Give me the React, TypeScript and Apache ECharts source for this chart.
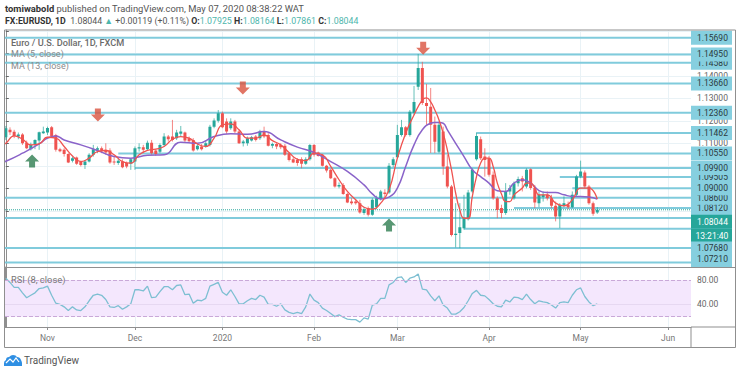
import React, { useEffect, useRef } from "react";
import * as echarts from "echarts";

const FONT = "Roboto, 'Open Sans', sans-serif";
const monthTicks = [10, 31, 52, 74, 94, 116, 138, 159];
const monthNames = ["Nov", "Dec", "2020", "Feb", "Mar", "Apr", "May", "Jun"];
const priceTicks = [1.16, 1.15, 1.14, 1.13, 1.12, 1.11, 1.1, 1.09, 1.08];
const priceTickLabels = [1.14, 1.13, 1.12, 1.11];
const rsiTicks = [80, 40];

// open, close, low, high
const candles: number[][] = [
  [1.1127,1.1167,1.1115,1.1177],[1.1160,1.1149,1.1137,1.1171],[1.1151,1.1133,1.1123,1.1160],[1.1130,1.1139,1.1118,1.1148],
  [1.1139,1.1100,1.1093,1.1145],[1.1103,1.1078,1.1074,1.1112],[1.1074,1.1093,1.1068,1.1103],[1.1097,1.1115,1.1074,1.1118],
  [1.1112,1.1149,1.1071,1.1152],[1.1145,1.1152,1.1142,1.1174],[1.1148,1.1168,1.1137,1.1174],[1.1171,1.1133,1.1127,1.1177],
  [1.1137,1.1071,1.1063,1.1142],[1.1074,1.1065,1.1060,1.1080],[1.1071,1.1052,1.1041,1.1078],[1.1052,1.1015,1.1012,1.1056],
  [1.1023,1.1034,1.1015,1.1041],[1.1037,1.1009,1.1004,1.1041],[1.1019,1.1004,1.0997,1.1023],[1.1004,1.1019,1.0986,1.1026],
  [1.1019,1.1049,1.1015,1.1056],[1.1049,1.1074,1.1041,1.1093],[1.1071,1.1078,1.1056,1.1086],[1.1078,1.1068,1.1056,1.1086],
  [1.1071,1.1059,1.1049,1.1100],[1.1068,1.1015,1.1009,1.1078],[1.1019,1.1015,1.1004,1.1041],[1.1012,1.1023,1.1004,1.1034],
  [1.1019,1.0994,1.0989,1.1029],[1.1012,1.0997,1.0989,1.1019],[1.1009,1.1029,1.0982,1.1034],[1.1019,1.1078,1.0982,1.1086],
  [1.1077,1.1083,1.1063,1.1100],[1.1083,1.1071,1.1056,1.1093],[1.1074,1.1103,1.1068,1.1112],[1.1103,1.1056,1.1049,1.1115],
  [1.1068,1.1053,1.1044,1.1074],[1.1062,1.1093,1.1056,1.1100],[1.1092,1.1130,1.1086,1.1145],[1.1130,1.1118,1.1108,1.1137],
  [1.1130,1.1115,1.1108,1.1204],[1.1123,1.1148,1.1115,1.1160],[1.1142,1.1152,1.1130,1.1177],[1.1148,1.1112,1.1103,1.1152],
  [1.1123,1.1109,1.1103,1.1130],[1.1115,1.1068,1.1063,1.1123],[1.1074,1.1089,1.1068,1.1097],[1.1086,1.1074,1.1068,1.1097],
  [1.1086,1.1100,1.1080,1.1112],[1.1093,1.1174,1.1086,1.1182],[1.1174,1.1201,1.1167,1.1211],[1.1200,1.1234,1.1192,1.1248],
  [1.1234,1.1171,1.1167,1.1241],[1.1197,1.1152,1.1142,1.1211],[1.1167,1.1197,1.1160,1.1211],[1.1197,1.1152,1.1145,1.1204],
  [1.1152,1.1100,1.1097,1.1160],[1.1100,1.1108,1.1086,1.1115],[1.1100,1.1123,1.1089,1.1130],[1.1112,1.1127,1.1108,1.1133],
  [1.1130,1.1115,1.1108,1.1137],[1.1123,1.1152,1.1115,1.1160],[1.1152,1.1130,1.1123,1.1174],[1.1137,1.1089,1.1086,1.1145],
  [1.1089,1.1097,1.1078,1.1103],[1.1097,1.1086,1.1074,1.1103],[1.1093,1.1083,1.1074,1.1100],[1.1089,1.1049,1.1044,1.1097],
  [1.1056,1.1026,1.1019,1.1060],[1.1029,1.1015,1.1012,1.1038],[1.1026,1.1012,1.1000,1.1034],[1.1029,1.1009,1.0989,1.1038],
  [1.1009,1.1029,1.1004,1.1038],[1.1029,1.1093,1.1023,1.1097],[1.1093,1.1049,1.1041,1.1097],[1.1059,1.1044,1.1041,1.1063],
  [1.1049,1.1000,1.0997,1.1053],[1.1000,1.0979,1.0970,1.1004],[1.0982,1.0945,1.0941,1.0986],[1.0945,1.0908,1.0903,1.0949],
  [1.0908,1.0915,1.0900,1.0926],[1.0915,1.0875,1.0871,1.0923],[1.0875,1.0837,1.0834,1.0880],[1.0841,1.0834,1.0827,1.0856],
  [1.0841,1.0834,1.0827,1.0849],[1.0834,1.0793,1.0787,1.0849],[1.0790,1.0807,1.0782,1.0816],[1.0812,1.0782,1.0775,1.0819],
  [1.0782,1.0849,1.0778,1.0856],[1.0816,1.0856,1.0807,1.0867],[1.0852,1.0886,1.0846,1.0893],[1.0881,1.0875,1.0856,1.0896],
  [1.0881,1.1000,1.0875,1.1012],[1.1004,1.1029,1.0994,1.1038],[1.1038,1.1137,1.1034,1.1182],[1.1137,1.1171,1.1130,1.1204],
  [1.1171,1.1137,1.1130,1.1177],[1.1137,1.1240,1.1130,1.1248],[1.1235,1.1284,1.1226,1.1355],[1.1351,1.1435,1.1337,1.1497],
  [1.1435,1.1279,1.1271,1.1462],[1.1279,1.1266,1.1182,1.1364],[1.1262,1.1182,1.1057,1.1346],[1.1182,1.1107,1.1056,1.1219],
  [1.1063,1.1182,1.1056,1.1197],[1.1152,1.0997,1.0960,1.1174],[1.0997,1.0908,1.0900,1.1049],[1.0908,1.0693,1.0686,1.0915],
  [1.0692,1.0698,1.0637,1.0834],[1.0701,1.0727,1.0634,1.0834],[1.0723,1.0767,1.0716,1.0871],[1.0763,1.0881,1.0757,1.0893],
  [1.0886,1.0982,1.0878,1.0989],[1.1029,1.1133,1.1023,1.1148],[1.1118,1.1034,1.1026,1.1130],[1.1041,1.1026,1.0952,1.1078],
  [1.1034,1.0960,1.0952,1.1044],[1.0960,1.0856,1.0849,1.0975],[1.0856,1.0804,1.0767,1.0864],[1.0812,1.0790,1.0767,1.0827],
  [1.0790,1.0886,1.0782,1.0923],[1.0886,1.0901,1.0871,1.0915],[1.0856,1.0923,1.0849,1.0930],[1.0923,1.0941,1.0908,1.0952],
  [1.0945,1.0930,1.0886,1.0955],[1.0908,1.0982,1.0900,1.0989],[1.0985,1.0901,1.0893,1.0989],[1.0901,1.0837,1.0812,1.0915],
  [1.0834,1.0871,1.0816,1.0886],[1.0861,1.0871,1.0841,1.0886],[1.0871,1.0856,1.0846,1.0886],[1.0856,1.0822,1.0812,1.0871],
  [1.0822,1.0775,1.0753,1.0841],[1.0775,1.0827,1.0723,1.0834],[1.0822,1.0834,1.0816,1.0864],[1.0827,1.0816,1.0807,1.0841],
  [1.0816,1.0871,1.0812,1.0886],[1.0871,1.0952,1.0864,1.0960],[1.0952,1.0975,1.0945,1.1023],[1.0970,1.0908,1.0900,1.0979],
  [1.0908,1.0834,1.0827,1.0915],[1.0834,1.0787,1.0778,1.0841],[1.07925,1.08044,1.07861,1.08164],
];

const ma5: number[][] = [
  [-1,1.1090],[0,1.1100],[2,1.1133],[4,1.1118],[6,1.1093],[8,1.1097],[10,1.1127],[12,1.1123],[14,1.1086],[16,1.1044],[18,1.1019],[20,1.1034],
  [22,1.1063],[24,1.1068],[26,1.1049],[28,1.1019],[30,1.1012],[32,1.1049],[34,1.1068],[36,1.1074],[38,1.1086],[40,1.1118],
  [42,1.1130],[44,1.1123],[46,1.1097],[48,1.1086],[50,1.1123],[52,1.1182],[54,1.1186],[56,1.1160],[58,1.1123],[60,1.1123],
  [62,1.1137],[64,1.1112],[66,1.1093],[68,1.1059],[70,1.1029],[72,1.1023],[74,1.1056],[76,1.1049],[78,1.0997],[80,1.0938],
  [82,1.0886],[84,1.0849],[86,1.0816],[88,1.0807],[90,1.0834],[92,1.0893],[94,1.1034],[96,1.1145],[98,1.1226],[100,1.1293],
  [101,1.1302],[102,1.1284],[103,1.1248],[104,1.1204],[105,1.1145],[106,1.1071],[107,1.0982],[108,1.0878],[109,1.0804],
  [110,1.0767],[111,1.0767],[112,1.0864],[113,1.0952],[114,1.1012],[115,1.1034],[116,1.1034],[117,1.0997],[118,1.0923],
  [119,1.0875],[120,1.0841],[121,1.0841],[122,1.0871],[124,1.0901],[125,1.0923],[126,1.0923],[127,1.0901],[128,1.0871],
  [130,1.0871],[132,1.0834],[134,1.0822],[136,1.0849],[138,1.0901],[140,1.0901],[142,1.0852],
];

const ma13: number[][] = [
  [-1,1.1015],[0,1.1020],[4,1.1056],[8,1.1097],[10,1.1123],[12,1.1133],[14,1.1115],[18,1.1093],[22,1.1068],[26,1.1041],[30,1.1034],
  [34,1.1047],[38,1.1049],[42,1.1105],[46,1.1100],[50,1.1130],[54,1.1142],[58,1.1140],[62,1.1152],[66,1.1115],[70,1.1083],
  [74,1.1059],[78,1.1019],[82,1.0975],[86,1.0915],[88,1.0875],[90,1.0852],[92,1.0861],[94,1.0901],[96,1.0997],[98,1.1093],
  [100,1.1160],[102,1.1189],[103,1.1192],[104,1.1192],[105,1.1189],[106,1.1160],[108,1.1100],[110,1.1041],[112,1.0982],
  [114,1.0952],[116,1.0923],[118,1.0889],[120,1.0886],[122,1.0923],[124,1.0938],[126,1.0923],[128,1.0890],[130,1.0881],
  [132,1.0881],[134,1.0871],[136,1.0864],[138,1.0864],[140,1.0861],[142,1.0852],
];

const rsi = [
  83,76,68,68,59,51,55,59,66,67,70,55,42,40,36,30,36,31,30,36,46,55,57,55,48,36,35,38,32,36,41,64,64,62,70,51,52,61,69,69,64,71,72,56,57,42,47,46,50,70,73,76,
  60,55,64,53,41,41,46,50,48,55,52,40,40,37,41,31,27,25,27,25,36,57,47,43,34,30,25,20,23,19,16,15,15,11,18,16,39,41,50,50,72,76,84,85,76,83,85,90,65,64,54,46,54,
  39,34,24,24,28,35,46,58,63,55,54,48,41,37,36,47,44,52,51,48,57,48,41,46,44,43,39,34,43,44,43,55,64,67,53,44,38,41,
];

// true price of line, text on its tag ("" = no tag), first day index, tag's vertical shift
const levels: [number, string, number, number][] = [
  [1.0570, "1.07210", -1, -4],
  [1.0635, "1.07680", -1, 0],
  [1.0720, "", 110, 0],
  [1.0768, "", -1, 0],
  [1.0812, "1.08120", 122, 0],
  [1.0858, "1.08600", -1, 0],
  [1.0900, "1.09000", 136, 0],
  [1.09505, "1.09505", 133, 0],
  [1.0990, "1.09900", 31, 0],
  [1.1055, "1.10550", 27, 0],
  [1.11462, "1.11462", 113, 0],
  [1.1236, "1.12360", -1, 0],
  [1.1366, "1.13660", -1, 0],
  [1.1458, "1.14580", -1, 0],
  [1.1495, "1.14950", -1, 0],
  [1.1569, "1.15690", -1, 0],
];

const lastPrice = 1.08044;
const downArrows = [[22.1, 1.1226], [56.9, 1.1346], [100.2, 1.1523]];
const upArrows = [[6.3, 1.1021], [92, 1.0737]];

const X_MIN = -0.2;
const X_MAX = 164.5;
const UP = "#26a69a";
const DOWN = "#ef5350";
const LEVEL = "#80cbdc";
const GRIDC = "#e9f2f6";
const AXISC = "#8f8f8f";

echarts.graphic.registerShape(
  "tvcloud",
  echarts.graphic.extendPath("M0 11 L0 8 Q0 6 2 5 Q2 2 5 2 Q7 0 9 0 Q12 0 13 2 Q16 2 17 5 Q18 7 18 8 L18 11 Z", {})
);

function renderCandle(_: any, api: any) {
  const i = api.value(0);
  const o = api.value(1);
  const c = api.value(2);
  const l = api.value(3);
  const h = api.value(4);
  const color = c >= o ? UP : DOWN;
  const [x, yo] = api.coord([i, o]);
  const yc = api.coord([i, c])[1];
  const yl = api.coord([i, l])[1];
  const yh = api.coord([i, h])[1];
  const top = Math.min(yo, yc);
  return {
    type: "group",
    children: [
      { type: "line", shape: { x1: x, y1: yh, x2: x, y2: yl }, style: { stroke: color, lineWidth: 1, opacity: 0.7 } },
      { type: "rect", shape: { x: x - 1.5, y: top, width: 3, height: Math.max(1, Math.abs(yo - yc)) }, style: { fill: color } },
    ],
  };
}

export default function App() {
  const ref = useRef<HTMLDivElement>(null);
  useEffect(() => {
    document.body.style.margin = "0";
    const chart = echarts.init(ref.current!, undefined, { renderer: "svg" });
    const arrow = (data: number[][], path: string, color: string) => ({
      type: "scatter",
      data,
      symbol: path,
      symbolSize: [14, 13],
      itemStyle: { color },
      z: 6,
      silent: true,
    });
    const xBase = {
      type: "value",
      min: X_MIN,
      max: X_MAX,
      splitLine: { show: true, lineStyle: { color: GRIDC, width: 1 } },
    };
    const tagBox = (bg: string, fg: string, weight: any = "normal") => ({
      show: true,
      distance: 0,
      color: fg,
      fontSize: 8.5,
      fontFamily: FONT,
      fontWeight: weight,
      backgroundColor: bg,
      padding: [2.5, 6, 2.5, 6],
      width: 29,
      align: "left",
    });
    chart.setOption({
      animation: false,
      backgroundColor: "#fff",
      grid: [
        { left: 5, right: 49, top: 30, height: 237.5 },
        { left: 5, right: 49, top: 267.5, height: 59.5 },
      ],
      xAxis: [
        {
          ...xBase,
          gridIndex: 0,
          axisLine: { show: false },
          axisTick: { show: false, customValues: monthTicks },
          axisLabel: { show: false, customValues: monthTicks },
        },
        {
          ...xBase,
          gridIndex: 1,
          axisLine: { show: true, lineStyle: { color: AXISC } },
          axisTick: { show: true, length: 3, lineStyle: { color: AXISC }, customValues: monthTicks },
          axisLabel: {
            show: true,
            customValues: monthTicks,
            margin: 6,
            fontSize: 8.5,
            fontFamily: FONT,
            color: "#777",
            formatter: (v: number) => monthNames[monthTicks.indexOf(Math.round(v))] ?? "",
          },
        },
      ],
      yAxis: [
        {
          type: "value",
          gridIndex: 0,
          position: "right",
          min: 1.0548,
          max: 1.16036,
          axisLine: { show: true, lineStyle: { color: AXISC } },
          axisTick: { show: true, length: 3, lineStyle: { color: "#666" }, customValues: priceTicks },
          splitLine: { show: true, lineStyle: { color: GRIDC } },
          axisLabel: {
            show: true,
            customValues: priceTickLabels,
            margin: 6,
            fontSize: 8.5,
            fontFamily: FONT,
            color: "#666",
            formatter: (v: number) => v.toFixed(5),
          },
        },
        {
          type: "value",
          gridIndex: 1,
          position: "right",
          min: 3,
          max: 100.5,
          axisLine: { show: true, lineStyle: { color: AXISC, width: 2 } },
          axisTick: { show: true, length: 3, lineStyle: { color: "#666" }, customValues: rsiTicks },
          splitLine: { show: false },
          axisLabel: {
            show: true,
            customValues: rsiTicks,
            margin: 6,
            fontSize: 8.5,
            fontFamily: FONT,
            color: "#666",
            formatter: (v: number) => v.toFixed(2),
          },
        },
      ],
      series: [
        ...levels.map(([price, tag, start, shift]) => ({
          type: "line",
          xAxisIndex: 0,
          yAxisIndex: 0,
          data: [[start < 0 ? X_MIN : start, price], [X_MAX, price]],
          symbol: "none",
          silent: true,
          lineStyle: { color: LEVEL, width: 2 },
          z: 2,
          endLabel: tag
            ? { ...tagBox("#86cfdf", "#2b3a40"), offset: [0, shift], formatter: () => tag }
            : { show: false },
        })),
        {
          type: "line",
          xAxisIndex: 0,
          yAxisIndex: 0,
          data: [[X_MIN, lastPrice], [X_MAX, lastPrice]],
          symbol: "none",
          silent: true,
          lineStyle: { color: UP, width: 1, type: "dotted" },
          z: 3,
          endLabel: { ...tagBox(UP, "#fff"), offset: [0, 12], formatter: () => lastPrice.toFixed(5) },
        },
        {
          type: "custom",
          xAxisIndex: 0,
          yAxisIndex: 0,
          renderItem: renderCandle,
          data: candles.map((c, i) => [i, ...c]),
          encode: { x: 0, y: [1, 2, 3, 4] },
          clip: true,
          silent: true,
          z: 4,
        },
        {
          type: "line",
          xAxisIndex: 0,
          yAxisIndex: 0,
          data: ma13,
          smooth: true,
          symbol: "none",
          silent: true,
          lineStyle: { color: "#8a63c9", width: 1.5 },
          z: 5,
        },
        {
          type: "line",
          xAxisIndex: 0,
          yAxisIndex: 0,
          data: ma5,
          smooth: true,
          symbol: "none",
          silent: true,
          lineStyle: { color: "#ef5350", width: 1.3 },
          z: 5,
        },
        arrow(downArrows, "path://M4 0H10V6H14L7 13L0 6H4Z", "#d9533f"),
        arrow(upArrows, "path://M7 0L14 7H10V13H4V7H0Z", "#2e7d50"),
        {
          type: "line",
          xAxisIndex: 1,
          yAxisIndex: 1,
          data: rsi.map((v, i) => [i, v]),
          symbol: "none",
          silent: true,
          lineStyle: { color: "#7dbfd2", width: 1.3 },
          z: 4,
          markArea: {
            silent: true,
            itemStyle: { color: "#f4e7fd" },
            data: [[{ yAxis: 20 }, { yAxis: 80 }]],
          },
          markLine: {
            silent: true,
            symbol: "none",
            label: { show: false },
            data: [
              { yAxis: 80, lineStyle: { color: "#c9a9d8", type: "dashed", width: 1 } },
              { yAxis: 20, lineStyle: { color: "#c9a9d8", type: "dashed", width: 1 } },
              { yAxis: 40, lineStyle: { color: "#e6d8f1", type: "solid", width: 1 } },
            ],
          },
        },
      ],
      graphic: [
        { type: "rect", z: 1, shape: { x: 691, y: 161, width: 41, height: 106 }, style: { fill: "#86cfdf" } },
        { type: "rect", z: 20, shape: { x: 691, y: 229, width: 41, height: 12.5 }, style: { fill: "#26a69a" } },
        {
          type: "text", z: 21, x: 695.5, y: 231,
          style: { text: "13:21:40", fill: "#fff", font: `8.5px ${FONT}` },
        },
        { type: "rect", z: 15, shape: { x: 4.5, y: 30, width: 731, height: 317.5 }, style: { fill: "none", stroke: AXISC, lineWidth: 1 } },
        { type: "line", z: 15, shape: { x1: 5, y1: 267.5, x2: 735, y2: 267.5 }, style: { stroke: AXISC, lineWidth: 1 } },
        { type: "line", z: 15, shape: { x1: 691, y1: 327, x2: 735, y2: 327 }, style: { stroke: AXISC, lineWidth: 1 } },
        { type: "line", z: 15, shape: { x1: 691, y1: 327, x2: 691, y2: 347 }, style: { stroke: AXISC, lineWidth: 1 } },
        {
          type: "text", z: 30, x: 5, y: 3.5,
          style: {
            text: "{b|tomiwabold} published on TradingView.com, May 07, 2020 08:38:22 WAT",
            font: `9.4px ${FONT}`,
            fill: "#555",
            rich: { b: { fontWeight: "bold", fontSize: 9.4, fontFamily: FONT, fill: "#333" } },
          },
        },
        {
          type: "text", z: 30, x: 5, y: 16,
          style: {
            text: "{b|FX:EURUSD, 1D}  1.08044 {t|▲} +0.00119 (+0.11%) {b|O:}{t|1.07925} {b|H:}{t|1.08164} {b|L:}{t|1.07861} {b|C:}{t|1.08044}",
            font: `8.8px ${FONT}`,
            fill: "#555",
            rich: {
              b: { fontWeight: "bold", fontSize: 8.8, fontFamily: FONT, fill: "#333" },
              t: { fontSize: 8.8, fontFamily: FONT, fill: "#4db6ac" },
            },
          },
        },
        { type: "text", z: 30, x: 11, y: 37.5, style: { text: "Euro / U.S. Dollar, 1D, FXCM", font: `500 9.2px ${FONT}`, fill: "#6b6b6b" } },
        { type: "text", z: 30, x: 11, y: 49.5, style: { text: "MA (5, close)", font: `9px ${FONT}`, fill: "#8a8a8a" } },
        { type: "text", z: 30, x: 11, y: 61.5, style: { text: "MA (13, close)", font: `9px ${FONT}`, fill: "#8a8a8a" } },
        { type: "text", z: 30, x: 11, y: 275, style: { text: "RSI (8, close)", font: `9.4px ${FONT}`, fill: "#777" } },
        { type: "tvcloud", z: 30, x: 4, y: 355, style: { fill: "#2f8fe3" } },
        { type: "polyline", z: 31, shape: { points: [[6, 363], [10, 359], [13, 362], [16, 358], [19, 362]] }, style: { stroke: "#fff", lineWidth: 1.2, fill: "none" } },
        { type: "text", z: 30, x: 24, y: 355, style: { text: "TradingView", font: `10px ${FONT}`, fill: "#555" } },
      ],
    });
    return () => chart.dispose();
  }, []);
  return <div ref={ref} style={{ width: 740, height: 373 }} />;
}
